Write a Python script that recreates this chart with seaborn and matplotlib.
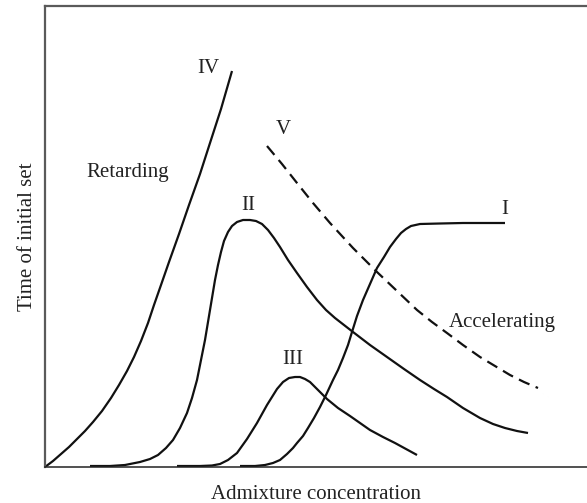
import matplotlib
matplotlib.use("Agg")
import matplotlib.pyplot as plt
import pandas as pd
import seaborn as sns

# Schematic curves: time of initial set vs. admixture concentration (arbitrary units)
curve_I_x = [195, 210, 220, 228, 235, 242, 248, 252, 258, 263, 269, 275, 281, 288, 293, 298,
             303, 307, 312, 318, 325, 332, 339, 345, 351, 356, 361, 366, 375, 395, 418, 460]
curve_I_y = [1, 1, 2, 4, 7, 13, 19, 24, 31, 39, 49, 60, 72, 87, 97, 109,
             122, 135, 151, 167, 183, 199, 210, 220, 228, 234, 238, 241, 243, 243.5, 244, 244]

curve_II_x = [45, 65, 80, 95, 105, 113, 121, 128, 135, 142, 147, 152, 156, 160, 165, 170, 173,
              176, 179, 183, 187, 192, 198, 205, 211, 217, 223, 229, 235, 243, 252, 262, 272,
              281, 290, 299, 308, 325, 342, 359, 375, 389, 402, 418, 435, 448, 460, 472, 483]
curve_II_y = [1, 1, 2, 5, 8, 12, 19, 27, 39, 54, 69, 87, 107, 127, 157, 187, 202,
              215, 226, 235, 241, 245, 247, 247, 246, 243, 237, 229, 220, 207, 194, 180, 167,
              157, 149, 142, 135, 122, 110, 98, 87, 78, 70, 59, 49, 43, 39, 36, 34]

curve_III_x = [132, 155, 167, 175, 183, 192, 202, 212, 222, 232, 238, 244, 250, 255, 260, 265,
               273, 282, 293, 305, 315, 325, 338, 350, 361, 372]
curve_III_y = [1, 1, 1.5, 3, 7, 14, 28, 44, 62, 78, 85, 89, 90, 90, 88, 85,
               77, 68, 59, 51, 44, 37, 30, 24, 18, 12]

curve_IV_x = [0, 8, 16, 24, 32, 40, 48, 57, 66, 74, 82, 89, 96, 103, 109, 116, 124, 134,
              144, 155, 165, 176, 187]
curve_IV_y = [0, 6, 13, 20, 28, 36, 45, 56, 69, 82, 96, 110, 126, 144, 162, 182, 205, 233,
              262, 293, 324, 358, 396]

curve_V_x = [222, 237, 252, 268, 285, 308, 332, 352, 372, 387, 402, 418, 435, 450, 465, 479, 493]
curve_V_y = [321, 303, 284, 264, 244, 219, 195, 176, 157, 145, 134, 122, 110, 101, 92, 85, 79]

curve_names = ["I", "II", "III", "IV", "V"]
label_x = [460, 203, 248, 163, 238]
label_y = [257, 261, 108, 398, 337]

region_names = ["Retarding", "Accelerating"]
region_x = [83, 457]
region_y = [294, 144]

sns.set_theme(style="white")
plt.rcParams["font.family"] = ["Liberation Serif", "DejaVu Serif"]

fig = plt.figure(figsize=(5.87, 5.03), dpi=100)
W, H = 587, 503
ax = fig.add_axes([45 / W, (H - 467) / H, (W - 45) / W, (467 - 6) / H])

series = [
    (curve_I_x, curve_I_y, "I"),
    (curve_II_x, curve_II_y, "II"),
    (curve_III_x, curve_III_y, "III"),
    (curve_IV_x, curve_IV_y, "IV"),
    (curve_V_x, curve_V_y, "V"),
]
for xs, ys, name in series:
    df = pd.DataFrame({"c": xs, "t": ys})
    sns.lineplot(data=df, x="c", y="t", sort=False, estimator=None, ax=ax,
                 color="#111111", linewidth=1.6)
    line = ax.lines[-1]
    line.set_solid_capstyle("butt")
    line.set_solid_joinstyle("round")
    if name == "V":
        line.set_dashes((5.2, 3.0))

for name, lx, ly in zip(curve_names, label_x, label_y):
    ax.text(lx, ly, name, ha="center", va="center", fontsize=15, color="#222222")
for name, lx, ly in zip(region_names, region_x, region_y):
    ax.text(lx, ly, name, ha="center", va="center", fontsize=15, color="#222222")

ax.set_xlim(0, 542)
ax.set_ylim(0, 461)
ax.set_xticks([])
ax.set_yticks([])
ax.set_xlabel("Admixture concentration", fontsize=15, color="#222222", labelpad=13)
ax.set_ylabel("Time of initial set", fontsize=15, color="#222222", labelpad=6)

ax.spines["right"].set_visible(False)
for side in ["left", "top"]:
    ax.spines[side].set_color("#5a5a5a")
    ax.spines[side].set_linewidth(1.6)
ax.spines["bottom"].set_color("#222222")
ax.spines["bottom"].set_linewidth(1.1)

fig.savefig("out.png", dpi=100)
